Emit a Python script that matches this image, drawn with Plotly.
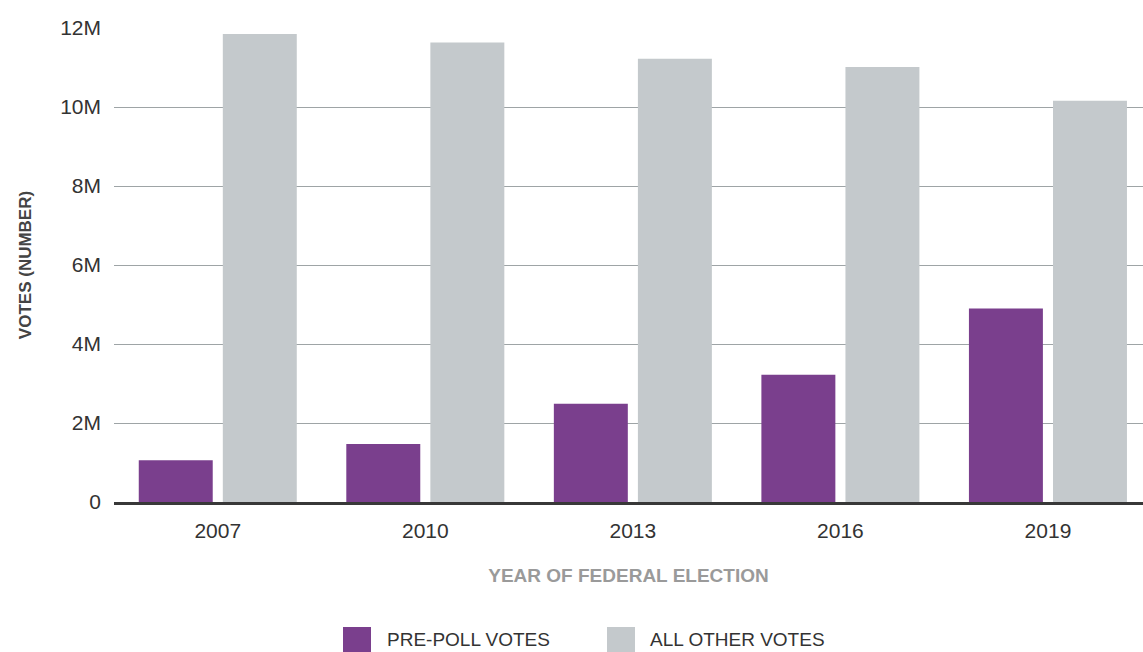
import plotly.graph_objects as go

years = ["2007", "2010", "2013", "2016", "2019"]
pre_poll = [1.06e6, 1.47e6, 2.49e6, 3.22e6, 4.90e6]
all_other = [11.85e6, 11.63e6, 11.22e6, 11.01e6, 10.16e6]
y_tickvals = [0, 2e6, 4e6, 6e6, 8e6, 10e6, 12e6]
y_ticktext = ["0", "2M", "4M", "6M", "8M", "10M", "12M"]
series_names = ["PRE-POLL VOTES", "ALL OTHER VOTES"]
colors = ["#7a3f8d", "#c4c9cc"]

FONT = "Liberation Sans, Arial, sans-serif"

fig = go.Figure()
fig.add_trace(go.Bar(x=years, y=pre_poll, name=series_names[0],
                     marker=dict(color=colors[0], line=dict(width=0))))
fig.add_trace(go.Bar(x=years, y=all_other, name=series_names[1],
                     marker=dict(color=colors[1], line=dict(width=0))))

fig.update_layout(
    width=1143, height=652,
    margin=dict(l=114, r=0, t=28, b=150),
    paper_bgcolor="white", plot_bgcolor="white",
    barmode="group", bargap=0.19, bargroupgap=0.12,
    showlegend=False,
    font=dict(family=FONT, color="#333333"),
)
fig.update_xaxes(
    type="category", range=[-0.5, 4.458],
    showgrid=False, showline=True, linecolor="#383838", linewidth=3,
    ticks="", ticklabelstandoff=8,
    tickfont=dict(size=21, color="#333333"),
    title=dict(text="<b>YEAR OF FEDERAL ELECTION</b>", standoff=28,
               font=dict(size=19, color="#9a9a9a")),
)
fig.update_yaxes(
    range=[0, 12e6], tickvals=y_tickvals, ticktext=y_ticktext,
    showgrid=True, gridcolor="#9ea4a6", gridwidth=1,
    zeroline=False, showline=False, ticks="", ticklabelstandoff=12,
    tickfont=dict(size=21, color="#333333"),
    title=dict(text="<b>VOTES (NUMBER)</b>", standoff=24,
               font=dict(size=17, color="#444444")),
)

# legend drawn as swatches + labels at the bottom
legend_items = [(343, 385), (607, 648)]
for (sx, tx), name, col in zip(legend_items, series_names, colors):
    fig.add_shape(type="rect", xref="paper", yref="paper",
                  x0=(sx - 114) / 1029, x1=(sx + 28 - 114) / 1029,
                  y0=(502 - 660) / 474, y1=(502 - 627) / 474,
                  fillcolor=col, line=dict(width=0), layer="above")
    fig.add_annotation(xref="paper", yref="paper",
                       x=(tx - 114) / 1029, y=(502 - 639) / 474,
                       xanchor="left", yanchor="middle", showarrow=False,
                       text=name, font=dict(size=19, color="#333333"))

fig.write_html("out.html")
